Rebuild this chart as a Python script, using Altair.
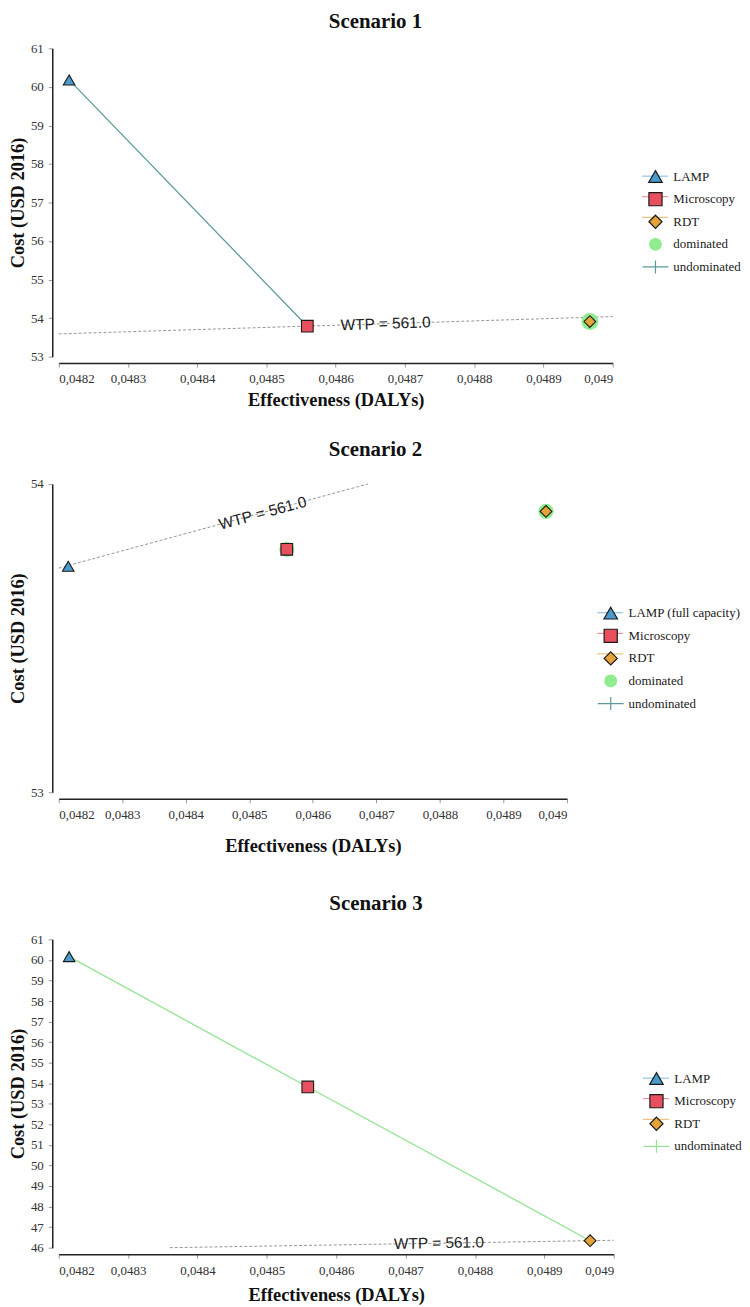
import altair as alt
import pandas as pd

SERIF = "Liberation Serif"
SANS = "Liberation Sans"

# ---------------- data ----------------
x_domain = [0.0482, 0.049]
x_tick_values = [0.0482, 0.0483, 0.0484, 0.0485, 0.0486, 0.0487, 0.0488, 0.0489, 0.049]
wtp_label = "WTP = 561.0"

s1_names = ["LAMP", "Microscopy", "RDT"]
s1_eff = [0.048215, 0.048559, 0.048967]
s1_cost = [60.18, 53.79, 53.91]
s1_dominated = ["RDT"]
s1_undominated = ["LAMP", "Microscopy"]
s1_wtp_eff = [0.0482, 0.049]
s1_wtp_cost = [53.59, 54.04]
s1_wtp_text_eff = [0.048672]
s1_wtp_text_cost = [53.853]
s1_y_domain = [53, 61]
s1_y_ticks = [53, 54, 55, 56, 57, 58, 59, 60, 61]
s1_legend = ["LAMP", "Microscopy", "RDT", "dominated", "undominated"]

s2_names = ["LAMP (full capacity)", "Microscopy", "RDT"]
s2_eff = [0.048215, 0.048559, 0.048967]
s2_cost = [53.733, 53.788, 53.911]
s2_dominated = ["Microscopy", "RDT"]
s2_undominated = ["LAMP (full capacity)"]
s2_wtp_eff = [0.0482, 0.048687]
s2_wtp_cost = [53.727, 54.0]
s2_wtp_text_eff = [0.048521]
s2_wtp_text_cost = [53.905]
s2_y_domain = [53, 54]
s2_y_ticks = [53, 54]
s2_legend = ["LAMP (full capacity)", "Microscopy", "RDT", "dominated", "undominated"]

s3_names = ["LAMP", "Microscopy", "RDT"]
s3_eff = [0.048215, 0.048559, 0.048966]
s3_cost = [60.16, 53.82, 46.34]
s3_dominated = []
s3_undominated = ["LAMP", "Microscopy", "RDT"]
s3_wtp_eff = [0.04836, 0.049]
s3_wtp_cost = [46.0, 46.36]
s3_wtp_text_eff = [0.048748]
s3_wtp_text_cost = [46.22]
s3_y_domain = [46, 61]
s3_y_ticks = [46, 47, 48, 49, 50, 51, 52, 53, 54, 55, 56, 57, 58, 59, 60, 61]
s3_legend = ["LAMP", "Microscopy", "RDT", "undominated"]

# ---------------- styles ----------------
MARKER_SHAPES = ["triangle-up", "square", "diamond"]
MARKER_SIZES = [135, 140, 150]
MARKER_FILLS = ["#4a9bcb", "#e8505f", "#e3a338"]
LEGEND_LINE_COLORS = ["#79b8da", "#e47f8a", "#e6b661"]
EDGE = "#1a1a1a"
HALO = "#8fec8f"
TEAL = "#5b9a9c"
LIGHT_GREEN = "#93e493"

TRI = "M0,-0.6L0.68,0.58L-0.68,0.58Z"
SQ = "M-0.66,-0.66H0.66V0.66H-0.66Z"
DIA = "M0,-0.66L0.66,0L0,0.66L-0.66,0Z"
CIRC = "M0.64,0A0.64,0.64,0,1,1,-0.64,0A0.64,0.64,0,1,1,0.64,0Z"
CROSS = "M-1.3,0H1.3M0,-0.65V0.65"
LINE = "M-1.3,0H1.3"
EMPTY = "M0,0"


def x_axis(title_pad):
    return alt.Axis(values=x_tick_values,
                    labelExpr="replace(format(datum.value, '.4~f'), '.', ',')",
                    title="Effectiveness (DALYs)", offset=6.5, tickSize=4,
                    labelPadding=6, titlePadding=title_pad, grid=False,
                    domainColor="#222", domainWidth=1.5, tickColor="#999",
                    labelFont=SERIF, labelFontSize=13, labelColor="#333",
                    titleFont=SERIF, titleFontSize=18.5, titleFontWeight="bold",
                    titleColor="#111")


def y_axis(ticks):
    return alt.Axis(values=ticks, format="d", title="Cost (USD 2016)",
                    offset=6.5, tickSize=4, labelPadding=5, titlePadding=3,
                    grid=False, domainColor="#222", domainWidth=1.5,
                    tickColor="#999", labelFont=SERIF, labelFontSize=13,
                    labelColor="#333", titleFont=SERIF, titleFontSize=18.5,
                    titleFontWeight="bold", titleColor="#111")


def color_expr(labels, colors):
    expr = "'transparent'"
    for lab, col in reversed(list(zip(labels, colors))):
        expr = f"datum.value === '{lab}' ? '{col}' : ({expr})"
    return expr


def panel(title, names, eff, cost, dominated, undominated, wtp_eff, wtp_cost,
          txt_eff, txt_cost, y_domain, y_ticks, legend_labels, width,
          text_angle, undom_color, halo_size, legend_x, legend_y, title_dx,
          title_offset, x_title_pad):
    pts = pd.DataFrame({"eff": eff, "cost": cost, "series": names})
    wtp = pd.DataFrame({"eff": wtp_eff, "cost": wtp_cost})
    txt = pd.DataFrame({"eff": txt_eff, "cost": txt_cost, "label": [wtp_label]})
    dom = pts[pts["series"].isin(dominated)]
    und = pts[pts["series"].isin(undominated)]

    X = alt.X("eff:Q", scale=alt.Scale(domain=x_domain, nice=False, zero=False),
              axis=x_axis(x_title_pad))
    Y = alt.Y("cost:Q", scale=alt.Scale(domain=y_domain, nice=False, zero=False),
              axis=y_axis(y_ticks))

    layers = []
    layers.append(alt.Chart(wtp).mark_line(strokeDash=[3, 2], color="#8a8a8a",
                                           strokeWidth=0.9).encode(x=X, y=Y))
    layers.append(alt.Chart(txt).mark_text(angle=text_angle, font=SANS,
                                           fontSize=15.5, color="#222",
                                           baseline="middle", align="center")
                  .encode(x=X, y=Y, text="label:N"))
    if len(und) > 1:
        layers.append(alt.Chart(und).mark_line(color=undom_color, strokeWidth=1.3)
                      .encode(x=X, y=Y))
    if len(dom) > 0:
        layers.append(alt.Chart(dom).mark_point(filled=True, shape="circle",
                                                color=HALO, size=halo_size,
                                                opacity=1).encode(x=X, y=Y))
    layers.append(alt.Chart(pts).mark_point(filled=True, opacity=1, stroke=EDGE,
                                            strokeWidth=1.1)
                  .encode(x=X, y=Y,
                          shape=alt.Shape("series:N", scale=alt.Scale(domain=names, range=MARKER_SHAPES), legend=None),
                          fill=alt.Fill("series:N", scale=alt.Scale(domain=names, range=MARKER_FILLS), legend=None),
                          size=alt.Size("series:N", scale=alt.Scale(domain=names, range=MARKER_SIZES), legend=None)))

    # legend symbols
    a_shapes, a_fills, a_strokes, b_shapes, b_strokes = [], [], [], [], []
    for lab in legend_labels:
        if lab in names:
            i = names.index(lab)
            a_shapes.append([TRI, SQ, DIA][i])
            a_fills.append(MARKER_FILLS[i])
            a_strokes.append(EDGE)
            b_shapes.append(LINE)
            b_strokes.append(LEGEND_LINE_COLORS[i])
        elif lab == "dominated":
            a_shapes.append(CIRC)
            a_fills.append(HALO)
            a_strokes.append("transparent")
            b_shapes.append(EMPTY)
            b_strokes.append("transparent")
        else:
            a_shapes.append(CROSS)
            a_fills.append("transparent")
            a_strokes.append(undom_color)
            b_shapes.append(EMPTY)
            b_strokes.append("transparent")

    common = dict(orient="none", legendX=legend_x, legendY=legend_y,
                  title=None, padding=0, symbolSize=400, labelFont=SERIF,
                  labelFontSize=13, labelColor="#1a1a1a", labelOffset=7,
                  rowPadding=2.7, labelLimit=300)
    la = alt.Legend(zindex=2, symbolStrokeWidth=1.2,
                    symbolFillColor={"expr": color_expr(legend_labels, a_fills)},
                    **common)
    layers.append(alt.Chart(pts).mark_point(filled=True, opacity=0)
                  .encode(x=X, y=Y,
                          shape=alt.Shape("series:N", scale=alt.Scale(domain=legend_labels, range=a_shapes), legend=la),
                          fill=alt.Fill("series:N", scale=alt.Scale(domain=legend_labels, range=a_fills), legend=la),
                          stroke=alt.Stroke("series:N", scale=alt.Scale(domain=legend_labels, range=a_strokes), legend=la)))
    lb = alt.Legend(zindex=1, symbolStrokeWidth=1.0, labelExpr="''", **common)
    layers.append(alt.Chart(pts).mark_point(filled=False, opacity=0)
                  .encode(x=X, y=Y,
                          shape=alt.Shape("series:N", scale=alt.Scale(domain=legend_labels, range=b_shapes), legend=lb),
                          stroke=alt.Stroke("series:N", scale=alt.Scale(domain=legend_labels, range=b_strokes), legend=lb)))

    return alt.layer(*layers).resolve_scale(
        shape="independent", fill="independent", stroke="independent",
        size="independent"
    ).properties(
        width=width, height=310,
        title=alt.TitleParams(title, font=SERIF, fontSize=21, fontWeight="bold",
                              anchor="middle", offset=title_offset, dx=title_dx,
                              color="#111"),
    )


p1 = panel("Scenario 1", s1_names, s1_eff, s1_cost, s1_dominated, s1_undominated,
           s1_wtp_eff, s1_wtp_cost, s1_wtp_text_eff, s1_wtp_text_cost,
           s1_y_domain, s1_y_ticks, s1_legend, 557, 358.2, TEAL, 289, 589, 118,
           40, 10, 5)
p2 = panel("Scenario 2", s2_names, s2_eff, s2_cost, s2_dominated, s2_undominated,
           s2_wtp_eff, s2_wtp_cost, s2_wtp_text_eff, s2_wtp_text_cost,
           s2_y_domain, s2_y_ticks, s2_legend, 511, 344.8, TEAL, 230, 544, 119,
           63, 18.3, 14.8)
p3 = panel("Scenario 3", s3_names, s3_eff, s3_cost, s3_dominated, s3_undominated,
           s3_wtp_eff, s3_wtp_cost, s3_wtp_text_eff, s3_wtp_text_cost,
           s3_y_domain, s3_y_ticks, s3_legend, 558, 359.0, LIGHT_GREEN, 230, 590, 129,
           40, 19.6, 8.5)

RES = dict(x="independent", y="independent", shape="independent",
           fill="independent", stroke="independent", size="independent")

top = alt.vconcat(p1, p2, spacing=29).resolve_scale(**RES)
chart = alt.vconcat(top, p3, spacing=37.9).resolve_scale(**RES).properties(
    padding={"left": 0, "top": 0, "right": 0, "bottom": 0}
).configure_view(stroke=None)

chart.save("out.html", embed_options={"renderer": "svg", "actions": False})
